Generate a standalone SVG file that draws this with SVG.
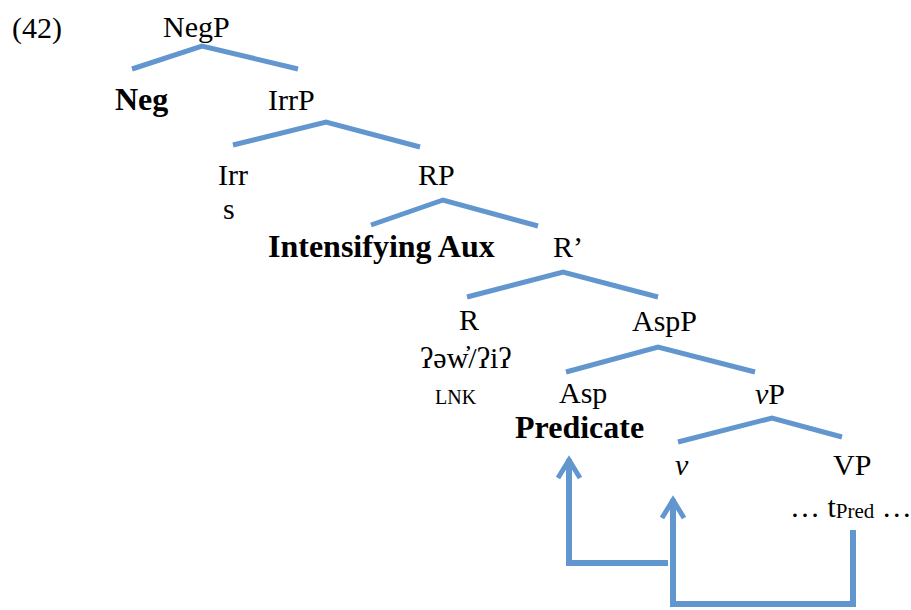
<svg xmlns="http://www.w3.org/2000/svg" width="911" height="610" viewBox="0 0 911 610">
<style>
text{font-family:"Liberation Serif","DejaVu Serif",serif;font-size:30px;fill:#000}
.b{font-weight:bold;font-size:32px}
.i{font-style:italic}
.sm{font-size:20px}
.sub{font-size:21px}
.edge{fill:none;stroke:#6196cf;stroke-width:5;stroke-linejoin:miter}
.mv{fill:none;stroke:#6196cf;stroke-width:6}
</style>
<defs>
<marker id="ah" markerUnits="userSpaceOnUse" markerWidth="40" markerHeight="40" viewBox="-30 -20 40 40" refX="0" refY="0" orient="auto">
<path d="M-19,-11 L-1,0 L-19,11" fill="none" stroke="#6196cf" stroke-width="5"/>
</marker>
</defs>
<g id="label42"><text x="12" y="38">(42)</text></g>
<g id="NegP"><text x="163" y="37">NegP</text></g>
<g id="Neg"><text class="b" x="115" y="110">Neg</text></g>
<g id="IrrP"><text x="268" y="110">IrrP</text></g>
<g id="Irrs"><text x="218" y="185">Irr</text><text x="223" y="219">s</text></g>
<g id="RP"><text x="418" y="185">RP</text></g>
<g id="IntAux"><text class="b" x="268" y="257">Intensifying Aux</text></g>
<g id="Rbar"><text x="553" y="257">R’</text></g>
<g id="R"><text x="459" y="330">R</text><text x="420" y="368">ʔəw̓/ʔiʔ</text><text class="sm" x="435" y="404">LNK</text></g>
<g id="AspP"><text x="632" y="331">AspP</text></g>
<g id="Asp"><text x="559" y="403">Asp</text><text class="b" x="515" y="438">Predicate</text></g>
<g id="vP"><text x="755" y="404"><tspan class="i">v</tspan>P</text></g>
<g id="v"><text class="i" x="675" y="475">v</text></g>
<g id="VP"><text x="833" y="475">VP</text><text x="790" y="517">… t<tspan class="sub" dy="1">Pred</tspan><tspan dy="-1"> …</tspan></text></g>
<g id="connectors">
<polyline class="edge" points="132,69 202,46 298,69"/>
<polyline class="edge" points="233,145 326,122 420,147"/>
<polyline class="edge" points="371,225 443,200 538,226"/>
<polyline class="edge" points="467,297 563,272 658,297"/>
<polyline class="edge" points="566,372 658,347 755,372"/>
<polyline class="edge" points="678,442 772,418 842,437"/>
<polyline class="mv" points="668,563 569,563 569,459" marker-end="url(#ah)"/>
<polyline class="mv" points="853,530 853,604 673,604 673,499" marker-end="url(#ah)"/>
</g>
</svg>
